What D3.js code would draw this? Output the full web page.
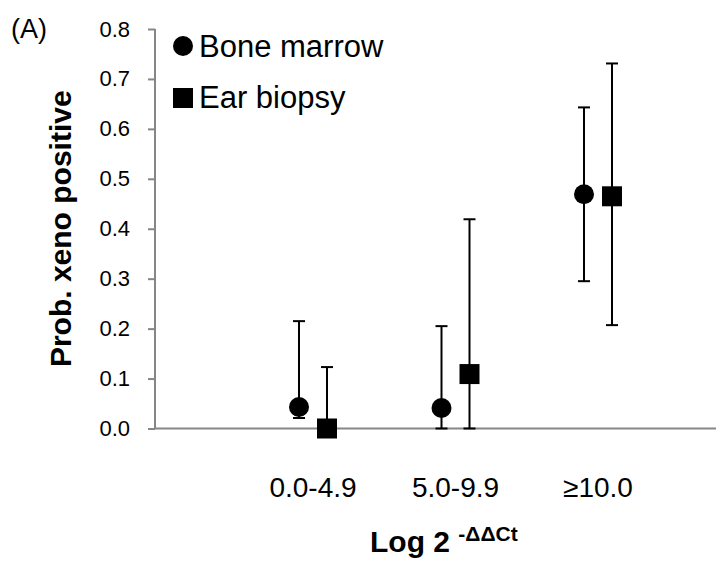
<!DOCTYPE html>
<html>
<head>
<meta charset="utf-8">
<script src="https://cdn.jsdelivr.net/npm/d3@7"></script>
<style>
  body { margin: 0; background: #fff; }
  text { font-family: "Liberation Sans", Arial, sans-serif; fill: #000; }
</style>
</head>
<body>
<svg id="chart"></svg>
<script>
const width = 716;
const height = 563;

// data
const categories = ["0.0-4.9", "5.0-9.9", "\u226510.0"];
const seriesNames = ["Bone marrow", "Ear biopsy"];
const boneMarrow = [0.043, 0.041, 0.469];
const boneMarrowLow = [0.021, 0.0, 0.295];
const boneMarrowHigh = [0.215, 0.205, 0.643];
const earBiopsy = [0.0, 0.109, 0.465];
const earBiopsyLow = [0.0, 0.0, 0.207];
const earBiopsyHigh = [0.123, 0.419, 0.731];
const yTicks = [0, 0.1, 0.2, 0.3, 0.4, 0.5, 0.6, 0.7, 0.8];

const margin = { top: 29, right: 0, bottom: 134.5, left: 155 };
const plotW = width - margin.left - margin.right;
const plotH = height - margin.top - margin.bottom;

const svg = d3.select("#chart").attr("width", width).attr("height", height);
const g = svg.append("g").attr("transform", `translate(${margin.left},${margin.top})`);

const x = d3.scalePoint().domain(categories).range([158, plotW - 118]);
const y = d3.scaleLinear().domain([0, 0.8]).range([plotH, 0]);
const offset = 14;

const rows = categories.map((c, i) => ({
  cat: c,
  bm: boneMarrow[i], bmLo: boneMarrowLow[i], bmHi: boneMarrowHigh[i],
  ear: earBiopsy[i], earLo: earBiopsyLow[i], earHi: earBiopsyHigh[i]
}));

// y axis
const yAxis = g.append("g")
  .call(d3.axisLeft(y).tickValues(yTicks).tickFormat(d3.format(".1f")).tickSize(7).tickPadding(18));
yAxis.select(".domain").attr("stroke", "#868686").attr("stroke-width", 2).attr("d", `M0,0V${plotH}`);
yAxis.selectAll(".tick line").attr("stroke", "#868686").attr("stroke-width", 2);
yAxis.selectAll(".tick text").attr("font-size", 22).attr("font-family", "Liberation Sans, Arial, sans-serif").attr("fill", "#000");

// x axis line
g.append("line")
  .attr("x1", 0).attr("x2", plotW)
  .attr("y1", y(0)).attr("y2", y(0))
  .attr("stroke", "#868686").attr("stroke-width", 2);

// category labels
g.selectAll(".cat-label")
  .data(categories)
  .enter()
  .append("text")
  .attr("class", "cat-label")
  .attr("x", d => x(d))
  .attr("y", y(0) + 68)
  .attr("text-anchor", "middle")
  .attr("font-size", 28)
  .text(d => d);

// error bars
function errorBar(sel, xf, lo, hi) {
  const cap = 6;
  sel.append("line")
    .attr("x1", xf).attr("x2", xf)
    .attr("y1", d => y(lo(d))).attr("y2", d => y(hi(d)));
  sel.append("line")
    .attr("x1", d => xf(d) - cap).attr("x2", d => xf(d) + cap)
    .attr("y1", d => y(hi(d))).attr("y2", d => y(hi(d)));
  sel.append("line")
    .attr("x1", d => xf(d) - cap).attr("x2", d => xf(d) + cap)
    .attr("y1", d => y(lo(d))).attr("y2", d => y(lo(d)));
}

const bars = g.selectAll(".err")
  .data(rows)
  .enter()
  .append("g")
  .attr("class", "err")
  .attr("stroke", "#000")
  .attr("stroke-width", 2);
errorBar(bars, d => x(d.cat) - offset, d => d.bmLo, d => d.bmHi);
errorBar(bars, d => x(d.cat) + offset, d => d.earLo, d => d.earHi);

// markers
g.selectAll(".bm")
  .data(rows)
  .enter()
  .append("circle")
  .attr("class", "bm")
  .attr("cx", d => x(d.cat) - offset)
  .attr("cy", d => y(d.bm))
  .attr("r", 10)
  .attr("fill", "#000");

g.selectAll(".ear")
  .data(rows)
  .enter()
  .append("rect")
  .attr("class", "ear")
  .attr("x", d => x(d.cat) + offset - 10)
  .attr("y", d => y(d.ear) - 10)
  .attr("width", 20)
  .attr("height", 20)
  .attr("fill", "#000");

// legend
const legend = svg.append("g").attr("transform", "translate(183,46)");
legend.append("circle").attr("cx", 0).attr("cy", 0).attr("r", 10).attr("fill", "#000");
legend.append("text").attr("x", 16).attr("y", 11).attr("font-size", 31).text(seriesNames[0]);
legend.append("rect").attr("x", -10).attr("y", 42).attr("width", 20).attr("height", 20).attr("fill", "#000");
legend.append("text").attr("x", 16).attr("y", 62).attr("font-size", 31).text(seriesNames[1]);

// panel label
svg.append("text").attr("x", 11).attr("y", 38).attr("font-size", 27).text("(A)");

// y title
svg.append("text")
  .attr("transform", `translate(71,${margin.top + plotH / 2}) rotate(-90)`)
  .attr("text-anchor", "middle")
  .attr("font-size", 30)
  .attr("font-weight", "bold")
  .text("Prob. xeno positive");

// x title
const xt = svg.append("text")
  .attr("x", 370)
  .attr("y", 552)
  .attr("font-size", 30)
  .attr("font-weight", "bold");
xt.append("tspan").text("Log 2 ");
xt.append("tspan").attr("font-size", 21).attr("dy", -11).text("-\u0394\u0394Ct");
</script>
</body>
</html>
